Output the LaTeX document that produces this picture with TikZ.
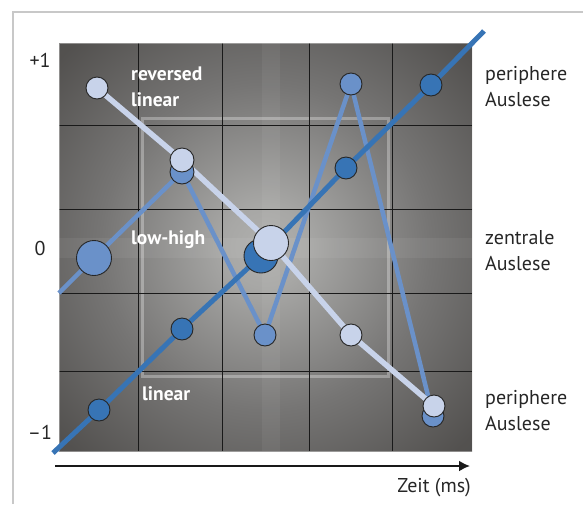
\documentclass[tikz,border=0pt]{standalone}
\usepackage{fontspec}
\setmainfont{PT Sans}
\usetikzlibrary{arrows.meta}
\pgfdeclarelayer{bg}
\pgfdeclarelayer{lines}
\pgfsetlayers{bg,lines,main}
\definecolor{darkblue}{HTML}{3774B5}
\definecolor{midblue}{HTML}{6A91C9}
\definecolor{lightblue}{HTML}{C8D3EA}
\definecolor{framegray}{HTML}{C8C8C8}
\definecolor{mriout}{HTML}{4A4846}
\definecolor{mrimid}{HTML}{767574}
\definecolor{mriin}{HTML}{B0B0AE}
\pgfdeclareradialshading{mri}{\pgfpoint{0bp}{0bp}}{color(0bp)=(mriin); color(5bp)=(mriin!85!mrimid); color(20bp)=(mrimid); color(34bp)=(mriout!80!mrimid); color(50bp)=(mriout)}
\tikzset{
  dot/.style={circle, draw=black!85, line width=0.9pt, inner sep=0pt, minimum size=#1},
  dot/.default=22pt,
  lindot/.style={dot=#1, fill=darkblue},
  lindot/.default=22pt,
  lhdot/.style={dot=#1, fill=midblue},
  lhdot/.default=22pt,
  revdot/.style={dot=#1, fill=lightblue},
  revdot/.default=22pt,
  linline/.style={darkblue, line width=5pt},
  lhline/.style={midblue, line width=4.5pt},
  revline/.style={lightblue, line width=5.5pt},
  gridline/.style={black!90, line width=0.8pt},
  seqlabel/.style={text=white, font=\fontsize{19.5}{26}\selectfont\bfseries, inner sep=0pt, align=left},
  sidelabel/.style={text=black!85, font=\fontsize{20}{26}\selectfont, inner sep=0pt, align=left, anchor=west},
  axlabel/.style={text=black!85, font=\fontsize{20}{24}\selectfont, inner sep=0pt},
}
\begin{document}
\begin{tikzpicture}[x=1pt,y=-1pt]
\useasboundingbox (0,0) rectangle (583,504);
% outer frame
\draw[framegray, line width=1.5pt] (13,504) -- (13,12) -- (583,12);
% image background
\begin{pgfonlayer}{bg}
\shade[shading=mri] (59,43) rectangle (472,451);
\fill[white, opacity=0.06] (59,238) rectangle (472,258);
\fill[white, opacity=0.05] (262,43) rectangle (280,451);
\draw[white, opacity=0.3, line width=3pt] (142,118) rectangle (388,376);
\foreach \x in {138,222,309,392} \draw[gridline] (\x,43) -- (\x,451);
\foreach \y in {125,209,293,371} \draw[gridline] (59,\y) -- (472,\y);
\draw[white, opacity=0.35, line width=1pt] (59,43) rectangle (472,451);
\end{pgfonlayer}
% linear
\coordinate (lin0) at (53,453);
\coordinate (lin9) at (484,31);
\node[lindot] (L1) at (99,410) {};
\node[lindot] (L2) at (182,329) {};
\node[lindot=34pt] (L3) at (261,256) {};
\node[lindot] (L4) at (346,168) {};
\node[lindot] (L5) at (431,85) {};
% low-high
\coordinate (lh0) at (59,293);
\node[lhdot=35pt] (H1) at (94,258) {};
\node[lhdot=24pt] (H2) at (182,172) {};
\node[lhdot] (H3) at (265,335) {};
\node[lhdot] (H4) at (351,84) {};
\node[lhdot] (H5) at (433,416) {};
% reversed linear
\node[revdot] (R1) at (97,88) {};
\node[revdot=24pt] (R2) at (182,160) {};
\node[revdot=35pt] (R3) at (271,243) {};
\node[revdot] (R4) at (351,335) {};
\node[revdot] (R5) at (434,406) {};
\begin{pgfonlayer}{lines}
\draw[lhline] (lh0) -- (H1.center) -- (H2.center) -- (H3.center) -- (H4.center) -- (H5.center);
\draw[linline] (lin0) -- (L1.center) -- (L2.center) -- (L3.center) -- (L4.center) -- (L5.center) -- (lin9);
\draw[revline] (R1.center) -- (R2.center) -- (R3.center) -- (R4.center) -- (R5.center);
\end{pgfonlayer}
% sequence labels
\node[seqlabel, anchor=west] (tRev) at (131,87) {reversed\\linear};
\node[seqlabel, anchor=west] (tLH) at (131,240) {low-high};
\node[seqlabel, anchor=west] (tLin) at (142,394) {linear};
% axis labels
\node[axlabel] (yP) at (40,60) {+1};
\node[axlabel] (y0) at (40,248) {0};
\node[axlabel] (yM) at (40,432) {–1};
\node[sidelabel] (s1) at (485,87) {periphere\\Auslese};
\node[sidelabel] (s2) at (485,251) {zentrale\\Auslese};
\node[sidelabel] (s3) at (485,411) {periphere\\Auslese};
% time axis
\coordinate (t0) at (55,466);
\coordinate (t1) at (470,466);
\draw[black!90, line width=2pt, -{Latex[length=11pt,width=11pt]}] (t0) -- (t1);
\node[axlabel, anchor=east] (tz) at (471,488) {Zeit (ms)};
\end{tikzpicture}
\end{document}
